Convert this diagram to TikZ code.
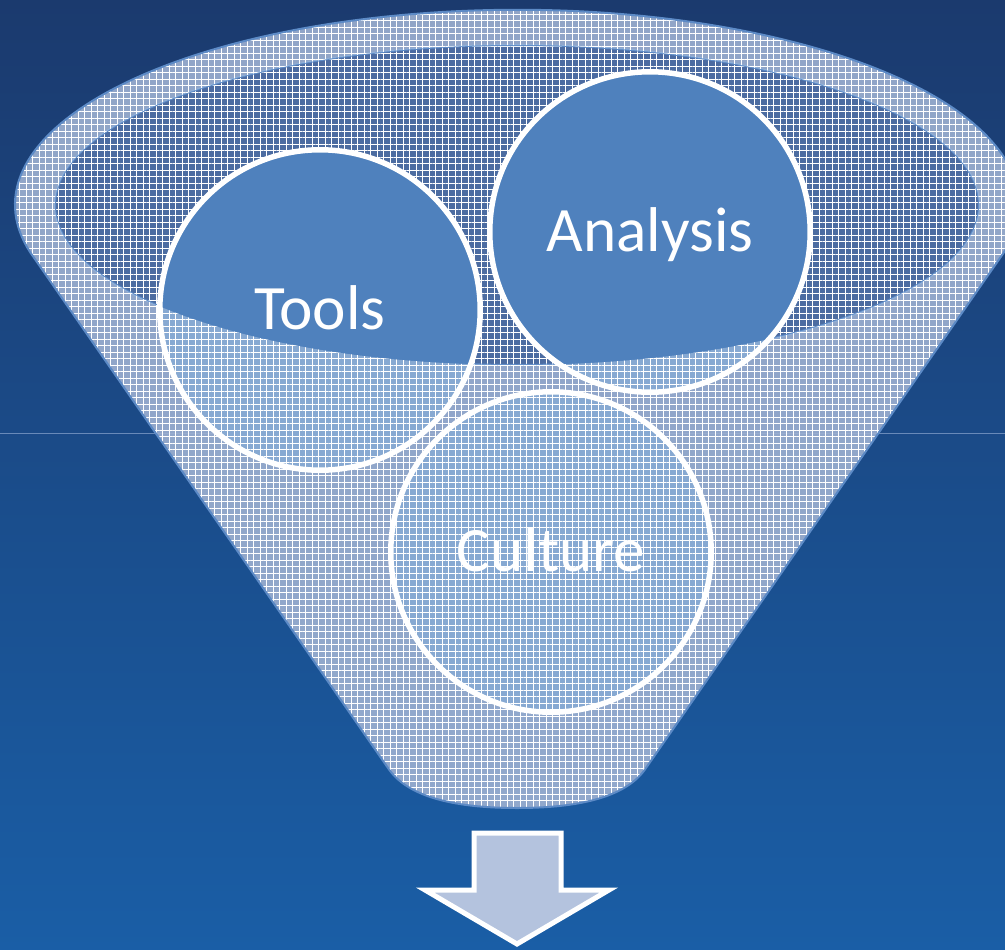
\documentclass[tikz,border=0pt]{standalone}
\usepackage{fontspec}
\setmainfont{Carlito}
\usetikzlibrary{patterns.meta}
\definecolor{bgtop}{RGB}{27,58,110}
\definecolor{bgmid}{RGB}{22,76,140}
\definecolor{bgbot}{RGB}{26,94,166}
\definecolor{acc}{RGB}{79,129,189}
\definecolor{ringfill}{RGB}{105,135,185}
\definecolor{cavity}{RGB}{72,104,158}
\definecolor{arrowfill}{RGB}{180,195,222}
\definecolor{edge}{RGB}{92,138,198}
\definecolor{thinline}{RGB}{105,138,185}
\def\funnelpath{(30,-252) arc[start angle=194,end angle=-14,x radius=502,y radius=195] -- (646,-768) .. controls (628,-795) and (585,-808) .. (517,-808) .. controls (449,-808) and (406,-795) .. (388,-768) -- cycle}
\tikzset{
  gridpat/.style={pattern={Hatch[angle=0,distance=3.7pt,line width=0.4pt]}, pattern color=white},
  circ/.style={circle, draw=white, fill=acc, line width=0.11cm, minimum size=6.41cm, inner sep=0pt},
  lbl/.style={text=white, anchor=base, font=\fontsize{36}{36}\selectfont},
}
\begin{document}
\begin{tikzpicture}[x=0.02cm,y=0.02cm]
\useasboundingbox (0,0) rectangle (1005,-950);
\shade[top color=bgtop, middle color=bgmid, bottom color=bgbot] (0,0) rectangle (1005,-950);
\coordinate (lineL) at (0,-433);
\coordinate (lineR) at (1005,-433);
\draw[thinline, line width=0.02cm] (lineL) -- (lineR);
% back of funnel
\fill[ringfill, fill opacity=0.85] \funnelpath;
\fill[gridpat, fill opacity=0.28] \funnelpath;
% inner opening
\fill[cavity, fill opacity=0.8] (517,-205) ellipse[x radius=462, y radius=160];
\fill[gridpat, fill opacity=0.22] (517,-205) ellipse[x radius=462, y radius=160];
\draw[edge, line width=0.04cm] (517,-205) ellipse[x radius=462, y radius=160];
% circles
\node[circ] (tools) at (320,-310) {};
\node[circ] (analysis) at (650,-232) {};
\node[circ] (culture) at (551,-552) {};
% front of funnel
\fill[white, fill opacity=0.32, even odd rule] \funnelpath (517,-205) ellipse[x radius=462, y radius=160];
\fill[gridpat, fill opacity=0.28, even odd rule] \funnelpath (517,-205) ellipse[x radius=462, y radius=160];
\draw[edge, line width=0.04cm] \funnelpath;
% labels
\node[lbl] (toolsT) at (320,-329) {Tools};
\node[lbl] (analysisT) at (650,-251) {Analysis};
\node[lbl] (cultureT) at (551,-571) {Culture};
% arrow
\draw[white, fill=arrowfill, line width=0.1cm, line join=miter]
  (474,-833) -- (561,-833) -- (561,-890) -- (609,-890) -- (517,-944) -- (425,-890) -- (474,-890) -- cycle;
\end{tikzpicture}
\end{document}
